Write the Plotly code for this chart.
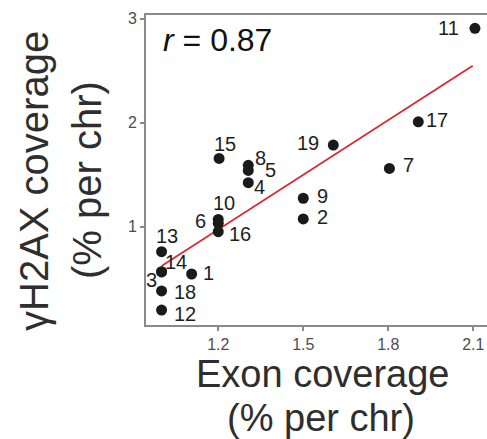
import plotly.graph_objects as go

# ---- data ----
chromosomes = ["1", "2", "3", "4", "5", "6", "7", "8", "9", "10",
               "11", "12", "13", "14", "15", "16", "17", "18", "19"]
exon_cov = [1.106, 1.50, 1.00, 1.306, 1.306, 1.20, 1.804, 1.306, 1.50, 1.20,
            2.106, 1.00, 1.00, 1.00, 1.203, 1.20, 1.906, 1.00, 1.606]
h2ax_cov = [0.545, 1.074, 0.565, 1.423, 1.54, 1.032, 1.56, 1.59, 1.273, 1.07,
            2.906, 0.199, 0.76, 0.567, 1.656, 0.952, 2.007, 0.382, 1.784]
fit_x = [1.00, 2.098]
fit_y = [0.622, 2.546]
x_ticks = [1.2, 1.5, 1.8, 2.1]
x_ticklabels = ["1.2", "1.5", "1.8", "2.1"]
y_ticks = [1, 2, 3]
y_ticklabels = ["1", "2", "3"]
r_value = "0.87"

# ---- label offsets (pixels) : style only ----
label_offsets = {
    "1": (17, 1), "2": (19, 2), "3": (-10, -8), "4": (11, -4), "5": (22, 0),
    "6": (-18, 2), "7": (19, 3), "8": (12, 7), "9": (19, 2), "10": (6, 16),
    "11": (-26, 0), "12": (23, -4), "13": (5, 16), "14": (14, 10),
    "15": (6, 14), "16": (22, -2), "17": (19, 2), "18": (23, -1), "19": (-25, 2),
}

FONT = "Liberation Sans, Arial, Helvetica, sans-serif"
W, H = 487, 439
L, T, B, R = 146, 15, 114, 0
PW, PH = W - L - R, H - T - B


def px(xp):
    return (xp - L) / PW


def py(yp):
    return (H - B - yp) / PH


fig = go.Figure()
fig.add_trace(go.Scatter(x=fit_x, y=fit_y, mode="lines",
                         line=dict(color="#d92b35", width=1.8),
                         hoverinfo="skip", showlegend=False))
fig.add_trace(go.Scatter(x=exon_cov, y=h2ax_cov, mode="markers",
                         marker=dict(color="#1a1a1a", size=11),
                         text=chromosomes, showlegend=False))

annotations = []
for c, xv, yv in zip(chromosomes, exon_cov, h2ax_cov):
    dx, dy = label_offsets[c]
    annotations.append(dict(x=xv, y=yv, xref="x", yref="y", text=c,
                            showarrow=False, xshift=dx, yshift=dy,
                            font=dict(family=FONT, size=20, color="#1e1e1e")))

annotations.append(dict(x=px(161), y=py(40), xref="paper", yref="paper",
                        xanchor="left", yanchor="middle",
                        text="<i>r</i> = " + r_value, showarrow=False,
                        font=dict(family=FONT, size=32, color="#111111")))

# axis titles
annotations.append(dict(x=px(323), y=py(374), xref="paper", yref="paper",
                        xanchor="center", yanchor="middle", text="Exon coverage",
                        showarrow=False, borderpad=0,
                        font=dict(family=FONT, size=38, color="#2e2e2e")))
annotations.append(dict(x=px(321), y=py(418), xref="paper", yref="paper",
                        xanchor="center", yanchor="middle", text="(% per chr)",
                        showarrow=False, borderpad=0,
                        font=dict(family=FONT, size=38, color="#2e2e2e")))
annotations.append(dict(x=px(34), y=py(181), xref="paper", yref="paper",
                        xanchor="center", yanchor="middle", text="γH2AX coverage",
                        textangle=-90, showarrow=False,
                        font=dict(family=FONT, size=40, color="#2e2e2e")))
annotations.append(dict(x=px(87), y=py(180), xref="paper", yref="paper",
                        xanchor="center", yanchor="middle", text="(% per chr)",
                        textangle=-90, showarrow=False,
                        font=dict(family=FONT, size=40, color="#2e2e2e")))

axis_line = "#8a8a8a"
fig.update_layout(
    width=W, height=H,
    margin=dict(l=L, t=T, b=B, r=R, pad=0),
    paper_bgcolor="white", plot_bgcolor="white",
    font=dict(family=FONT),
    annotations=annotations,
    xaxis=dict(range=[0.945, 2.1485], tickmode="array", tickvals=x_ticks,
               ticktext=x_ticklabels, showgrid=False, zeroline=False,
               showline=True, linecolor=axis_line, linewidth=2, mirror=True,
               ticks="outside", ticklen=4, tickcolor=axis_line, tickwidth=1.5,
               tickfont=dict(family=FONT, size=16, color="#4d4d4d")),
    yaxis=dict(range=[0.055, 3.034], tickmode="array", tickvals=y_ticks,
               ticktext=y_ticklabels, showgrid=False, zeroline=False,
               showline=True, linecolor=axis_line, linewidth=2,
               ticks="outside", ticklen=4, tickcolor=axis_line, tickwidth=1.5,
               tickfont=dict(family=FONT, size=16, color="#4d4d4d")),
)

fig.write_html("out.html")
